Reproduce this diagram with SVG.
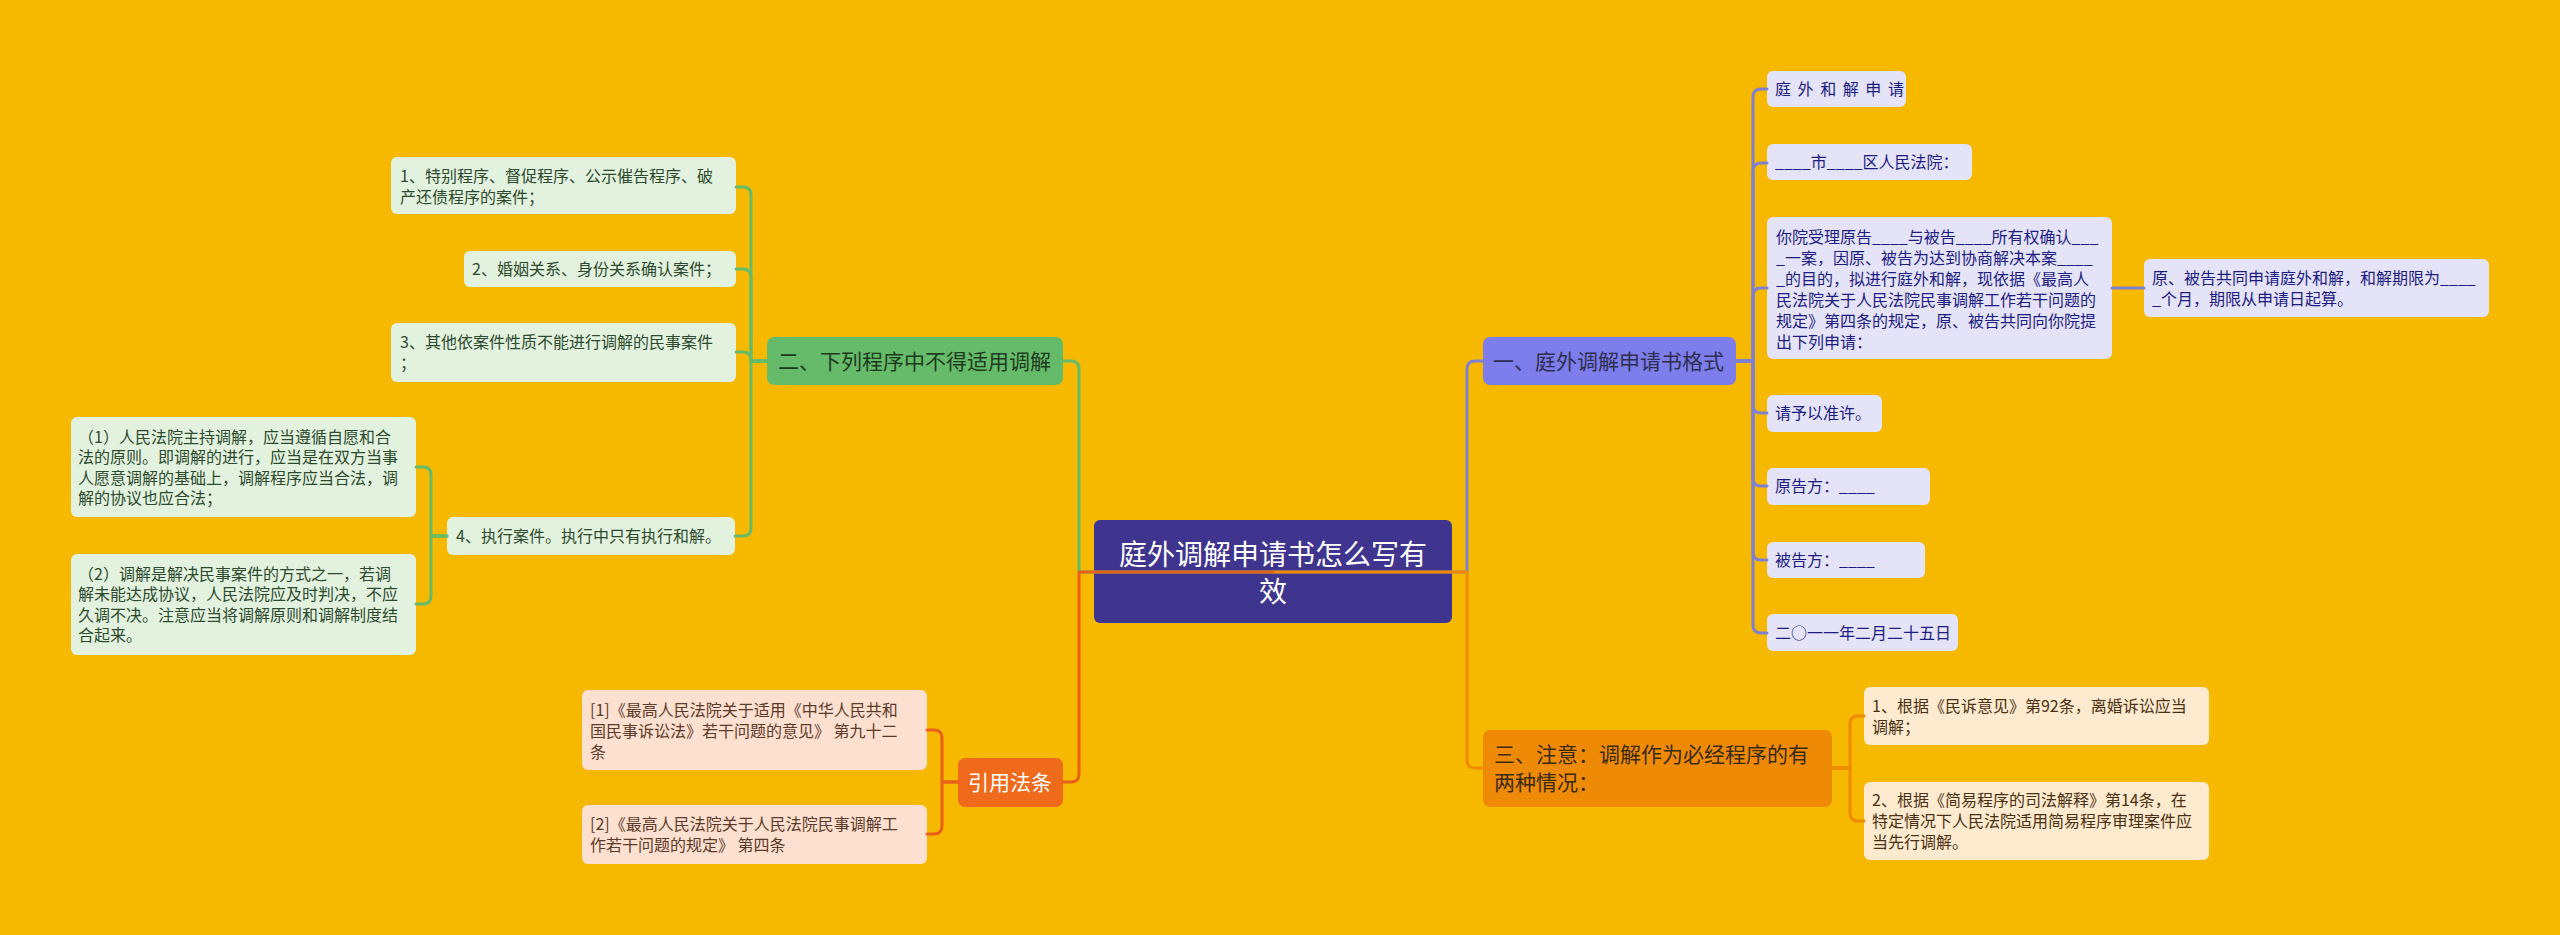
<svg xmlns="http://www.w3.org/2000/svg" width="2560" height="935" viewBox="0 0 2560 935">
<style>
text{font-family:"Noto Sans CJK SC","Noto Sans",sans-serif;}
.c{fill:none;stroke-width:3;stroke-linecap:round;stroke-linejoin:round}
.g{stroke:#66bb6a}.p{stroke:#8080d2}.r{stroke:#e8601a}.o{stroke:#f08a00}
.rc{fill:#e4e3f8}.gc{fill:#e2f2df}.pc{fill:#fde0cf}.oc{fill:#fdeacf}
.rt{font-size:16px;fill:#1c1c80}.gt{font-size:16px;fill:#2d4a2d}.pt{font-size:16px;fill:#5c3a2a}.ot{font-size:16px;fill:#4a3010}
.bt{font-size:21px}
</style>
<rect width="2560" height="935" fill="#f6b900"/>
<g id="center"><rect x="1094" y="520" width="358" height="103" rx="6" fill="#3f358f"/>
<text x="1273" y="565" font-size="28" fill="#fff" text-anchor="middle">庭外调解申请书怎么写有</text>
<text x="1273" y="602" font-size="28" fill="#fff" text-anchor="middle">效</text></g>
<g id="b1"><rect x="1483" y="337" width="253" height="48" rx="7" fill="#7d7deb"/><text class="bt" x="1493" y="369" fill="#2e2e50">一、庭外调解申请书格式</text></g>
<g id="b2"><rect x="767" y="337" width="296" height="48" rx="7" fill="#66bb6a"/><text class="bt" x="778" y="369" fill="#1e3a1e">二、下列程序中不得适用调解</text></g>
<g id="b4"><rect x="958" y="758" width="105" height="49" rx="7" fill="#ef6a1a"/><text class="bt" x="968" y="790" fill="#fff">引用法条</text></g>
<g id="b3"><rect x="1483" y="730" width="349" height="77" rx="7" fill="#ef8a07"/><text class="bt" x="1494" y="762" fill="#3b2a10">三、注意：调解作为必经程序的有</text><text class="bt" x="1494" y="790" fill="#3b2a10">两种情况：</text></g>
<g id="r1"><rect class="rc" x="1767" y="71" width="139" height="36" rx="6"/><text class="rt" x="1775" y="95" letter-spacing="1.5">庭 外 和 解 申 请</text></g>
<g id="r2"><rect class="rc" x="1767" y="144" width="205" height="36" rx="6"/><text class="rt" x="1775" y="168">____市____区人民法院：</text></g>
<g id="r3"><rect class="rc" x="1767" y="217" width="345" height="142" rx="6"/><text class="rt" x="1776" y="243">你院受理原告____与被告____所有权确认___</text><text class="rt" x="1776" y="264">_一案，因原、被告为达到协商解决本案____</text><text class="rt" x="1776" y="285">_的目的，拟进行庭外和解，现依据《最高人</text><text class="rt" x="1776" y="306">民法院关于人民法院民事调解工作若干问题的</text><text class="rt" x="1776" y="327">规定》第四条的规定，原、被告共同向你院提</text><text class="rt" x="1776" y="348">出下列申请：</text></g>
<g id="r3a"><rect class="rc" x="2144" y="259" width="345" height="58" rx="6"/><text class="rt" x="2152" y="284">原、被告共同申请庭外和解，和解期限为____</text><text class="rt" x="2152" y="305">_个月，期限从申请日起算。</text></g>
<g id="r4"><rect class="rc" x="1767" y="395" width="115" height="37" rx="6"/><text class="rt" x="1775" y="419">请予以准许。</text></g>
<g id="r5"><rect class="rc" x="1767" y="468" width="163" height="37" rx="6"/><text class="rt" x="1775" y="492">原告方：____</text></g>
<g id="r6"><rect class="rc" x="1767" y="542" width="158" height="36" rx="6"/><text class="rt" x="1775" y="566">被告方：____</text></g>
<g id="r7"><rect class="rc" x="1767" y="614" width="191" height="37" rx="6"/><text class="rt" x="1775" y="639">二○一一年二月二十五日</text></g>
<g id="g1"><rect class="gc" x="391" y="157" width="345" height="57" rx="6"/><text class="gt" x="400" y="182">1、特别程序、督促程序、公示催告程序、破</text><text class="gt" x="400" y="203">产还债程序的案件；</text></g>
<g id="g2"><rect class="gc" x="464" y="251" width="272" height="36" rx="6"/><text class="gt" x="472" y="275">2、婚姻关系、身份关系确认案件；</text></g>
<g id="g3"><rect class="gc" x="391" y="323" width="345" height="59" rx="6"/><text class="gt" x="400" y="348">3、其他依案件性质不能进行调解的民事案件</text><text class="gt" x="400" y="369">；</text></g>
<g id="g4"><rect class="gc" x="447" y="517" width="288" height="38" rx="6"/><text class="gt" x="456" y="542">4、执行案件。执行中只有执行和解。</text></g>
<g id="g4a"><rect class="gc" x="71" y="417" width="345" height="100" rx="6"/><text class="gt" x="78" y="443">（1）人民法院主持调解，应当遵循自愿和合</text><text class="gt" x="78" y="463">法的原则。即调解的进行，应当是在双方当事</text><text class="gt" x="78" y="484">人愿意调解的基础上，调解程序应当合法，调</text><text class="gt" x="78" y="504">解的协议也应合法；</text></g>
<g id="g4b"><rect class="gc" x="71" y="554" width="345" height="101" rx="6"/><text class="gt" x="78" y="580">（2）调解是解决民事案件的方式之一，若调</text><text class="gt" x="78" y="600">解未能达成协议，人民法院应及时判决，不应</text><text class="gt" x="78" y="621">久调不决。注意应当将调解原则和调解制度结</text><text class="gt" x="78" y="641">合起来。</text></g>
<g id="p1"><rect class="pc" x="582" y="690" width="345" height="80" rx="6"/><text class="pt" x="590" y="716">[1]《最高人民法院关于适用《中华人民共和</text><text class="pt" x="590" y="737">国民事诉讼法》若干问题的意见》 第九十二</text><text class="pt" x="590" y="758">条</text></g>
<g id="p2"><rect class="pc" x="582" y="805" width="345" height="59" rx="6"/><text class="pt" x="590" y="830">[2]《最高人民法院关于人民法院民事调解工</text><text class="pt" x="590" y="851">作若干问题的规定》 第四条</text></g>
<g id="o1"><rect class="oc" x="1864" y="687" width="345" height="58" rx="6"/><text class="ot" x="1872" y="712">1、根据《民诉意见》第92条，离婚诉讼应当</text><text class="ot" x="1872" y="733">调解；</text></g>
<g id="o2"><rect class="oc" x="1864" y="782" width="345" height="78" rx="6"/><text class="ot" x="1872" y="806">2、根据《简易程序的司法解释》第14条，在</text><text class="ot" x="1872" y="827">特定情况下人民法院适用简易程序审理案件应</text><text class="ot" x="1872" y="848">当先行调解。</text></g>
<g id="connectors">
<path class="c g" stroke-width="2.5" d="M1273,572 H1079 V369 Q1079,361 1071,361 H1063"/>
<path class="c p" stroke-width="2.5" d="M1273,572 H1467 V369 Q1467,361 1475,361 H1483"/>
<path class="c o" stroke-width="2.5" d="M1273,572 H1467 V760 Q1467,768 1475,768 H1483"/>
<path class="c r" stroke-width="2.5" d="M1273,572 H1079 V774 Q1079,782 1071,782 H1063"/>
<path class="c p" d="M1736,361 H1753 V97 Q1753,89 1761,89 H1767"/>
<path class="c p" d="M1736,361 H1753 V171 Q1753,163 1761,163 H1767"/>
<path class="c p" d="M1736,361 H1753 V296 Q1753,288 1761,288 H1767"/>
<path class="c p" d="M1736,361 H1753 V405 Q1753,413 1761,413 H1767"/>
<path class="c p" d="M1736,361 H1753 V478 Q1753,486 1761,486 H1767"/>
<path class="c p" d="M1736,361 H1753 V552 Q1753,560 1761,560 H1767"/>
<path class="c p" d="M1736,361 H1753 V625 Q1753,633 1761,633 H1767"/>
<path class="c p" d="M2112,288 H2144"/>
<path class="c g" d="M767,361 H751 V195 Q751,187 743,187 H736"/>
<path class="c g" d="M767,361 H751 V277 Q751,269 743,269 H736"/>
<path class="c g" d="M767,361 H751 V360 Q751,352 743,352 H736"/>
<path class="c g" d="M767,361 H751 V528 Q751,536 743,536 H735"/>
<path class="c g" d="M447,536 H431 V475 Q431,467 423,467 H416"/>
<path class="c g" d="M447,536 H431 V596 Q431,604 423,604 H416"/>
<path class="c r" d="M958,782 H942 V738 Q942,730 934,730 H927"/>
<path class="c r" d="M958,782 H942 V826 Q942,834 934,834 H927"/>
<path class="c o" d="M1832,768 H1850 V724 Q1850,716 1858,716 H1864"/>
<path class="c o" d="M1832,768 H1850 V813 Q1850,821 1858,821 H1864"/>
</g>
</svg>
